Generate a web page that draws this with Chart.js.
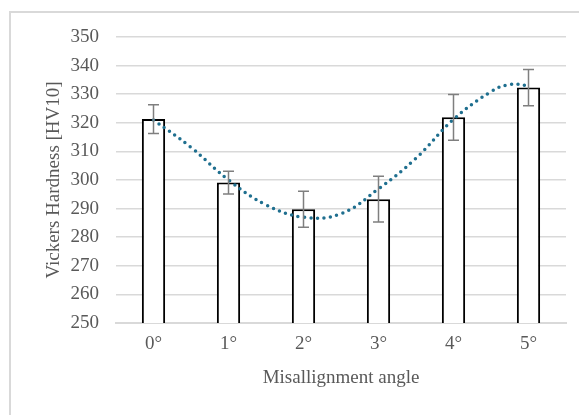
<!DOCTYPE html>
<html>
<head>
<meta charset="utf-8">
<script src="https://cdn.jsdelivr.net/npm/chart.js@4.4.1/dist/chart.umd.min.js"></script>
<style>
  body { margin: 0; background: #fff; }
  #wrap { position: relative; width: 579px; height: 415px; overflow: hidden; }
  #frame { position: absolute; left: 9px; top: 11px; width: 620px; height: 460px; border: 2px solid #d9d9d9; }
  canvas { position: absolute; left: 0; top: 0; }
</style>
</head>
<body>
<div id="wrap">
  <div id="frame"></div>
  <canvas id="hardnessChart" width="579" height="415"></canvas>
</div>
<script>
// Dữ liệu
const angles = ['0°', '1°', '2°', '3°', '4°', '5°'];
const hardness = [321.3, 299.1, 289.8, 293.3, 321.9, 332.3];
const errors = [5, 4, 6.3, 8, 8, 6.3];
const trendX = [0, 0.5, 1, 1.5, 2, 2.5, 3, 3.5, 4, 4.5, 4.75, 5];
const trendY = [321, 311.4, 300, 291.3, 287, 288.2, 296.9, 307.6, 321.2, 330.9, 333.4, 333];
const yTicks = [250, 260, 270, 280, 290, 300, 310, 320, 330, 340, 350];

const textColor = '#595959';
const gridColor = '#d9d9d9';
const serif = "'Liberation Serif', 'Times New Roman', serif";

// Vẽ thanh sai số
const errorBars = {
    id: 'errorBars',
    afterDatasetsDraw(chart) {
        const ctx = chart.ctx;
        const x = chart.scales.x;
        const y = chart.scales.y;
        ctx.save();
        ctx.strokeStyle = '#7f7f7f';
        ctx.lineWidth = 1.5;
        hardness.forEach((v, i) => {
            const cx = x.getPixelForValue(i);
            const top = y.getPixelForValue(v + errors[i]);
            const bottom = y.getPixelForValue(v - errors[i]);
            ctx.beginPath();
            ctx.moveTo(cx, top);
            ctx.lineTo(cx, bottom);
            ctx.moveTo(cx - 5.5, top);
            ctx.lineTo(cx + 5.5, top);
            ctx.moveTo(cx - 5.5, bottom);
            ctx.lineTo(cx + 5.5, bottom);
            ctx.stroke();
        });
        ctx.restore();
    }
};

const ctx = document.getElementById('hardnessChart').getContext('2d');
new Chart(ctx, {
    type: 'bar',
    data: {
        datasets: [{
            type: 'line',
            label: 'Trend',
            data: trendX.map((x, i) => ({ x: x, y: trendY[i] })),
            borderColor: '#1f6f8f',
            borderWidth: 3.5,
            borderDash: [0, 6.5],
            borderCapStyle: 'round',
            pointRadius: 0,
            tension: 0.4,
            fill: false,
            order: 0
        }, {
            label: 'Hardness',
            data: hardness.map((v, i) => ({ x: i, y: v })),
            backgroundColor: '#ffffff',
            borderColor: '#000000',
            borderWidth: 2,
            grouped: false,
            categoryPercentage: 1,
            barPercentage: 0.31,
            order: 1
        }]
    },
    options: {
        responsive: false,
        animation: false,
        layout: { padding: { top: 37, right: 13, left: 0, bottom: 0 } },
        plugins: {
            legend: { display: false },
            tooltip: { enabled: false }
        },
        scales: {
            x: {
                type: 'linear',
                min: -0.5,
                max: 5.5,
                offset: false,
                afterBuildTicks: function(scale) {
                    scale.ticks = angles.map((a, i) => ({ value: i }));
                },
                grid: { display: false, drawTicks: false },
                border: { display: true, color: gridColor, width: 2 },
                ticks: {
                    color: textColor,
                    font: { family: serif, size: 19 },
                    padding: 10,
                    callback: function(value) { return angles[value]; }
                },
                title: {
                    display: true,
                    text: 'Misallignment angle',
                    color: textColor,
                    font: { family: serif, size: 19 },
                    padding: { top: 0, bottom: 26 }
                },
                afterFit: function(scale) { scale.height = 92; }
            },
            y: {
                min: 250,
                max: 350,
                afterBuildTicks: function(scale) {
                    scale.ticks = yTicks.map(v => ({ value: v }));
                },
                grid: { color: gridColor, lineWidth: 1.5, drawTicks: false },
                border: { display: false },
                ticks: { color: textColor, font: { family: serif, size: 19 }, padding: 17 },
                title: {
                    display: true,
                    text: 'Vickers Hardness [HV10]',
                    color: textColor,
                    font: { family: serif, size: 19 },
                    padding: { top: 43, bottom: 0 }
                },
                afterFit: function(scale) { scale.width = 116; }
            }
        }
    },
    plugins: [errorBars]
});
</script>
</body>
</html>
